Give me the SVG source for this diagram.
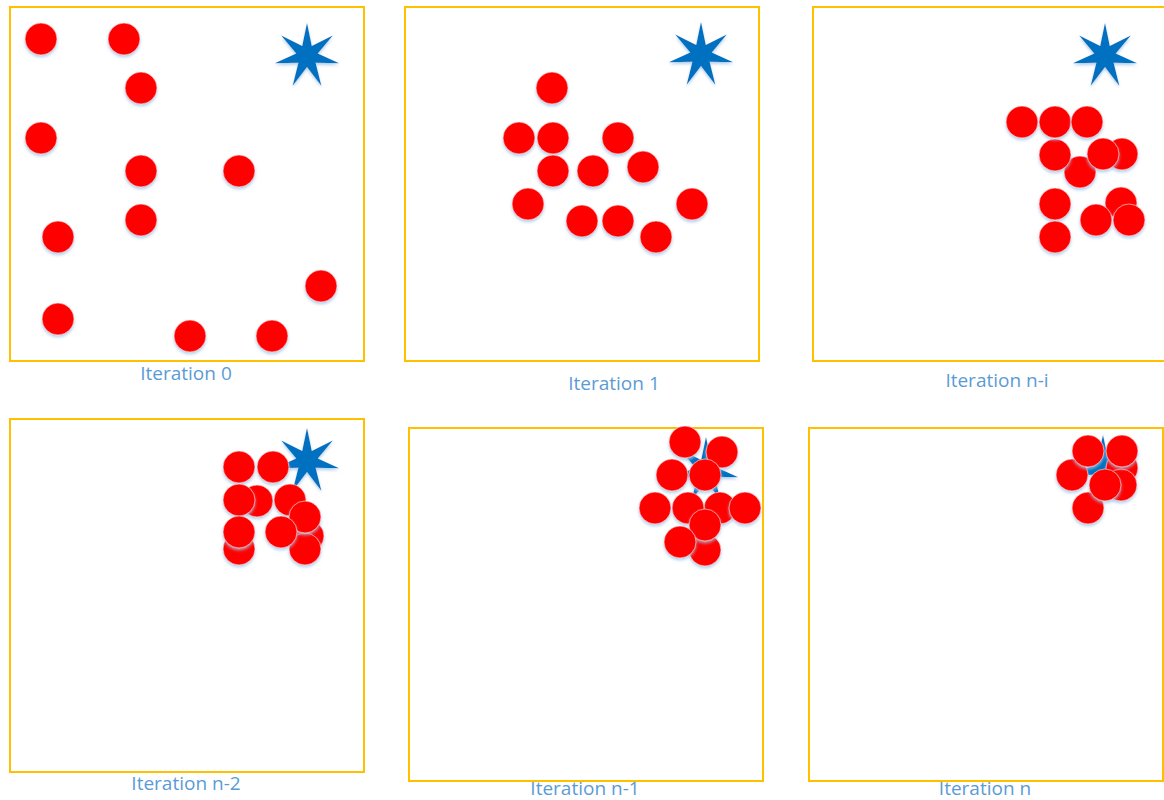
<svg xmlns="http://www.w3.org/2000/svg" xmlns:xlink="http://www.w3.org/1999/xlink" width="1164" height="800" viewBox="0 0 1164 800">
<style>
.frame{fill:#fff;stroke:#FFC000;stroke-width:2}
.ball{fill:#FF0000;stroke:#ffffff;stroke-opacity:0.55;stroke-width:1;filter:url(#sh)}
.star{fill:#0070C0;filter:url(#sh)}
.lbl{font-family:"Open Sans","Liberation Sans",sans-serif;font-size:19px;fill:#5B9BD5;text-anchor:middle}
</style>
<defs>
<filter id="sh" x="-50%" y="-50%" width="200%" height="200%">
<feDropShadow dx="0" dy="2" stdDeviation="1.6" flood-color="#9DC3E6" flood-opacity="0.8"/>
</filter>
<path id="st" d="M0,-33 L4.77,-9.91 L25.8,-20.58 L10.72,-2.45 L32.17,7.34 L8.6,6.86 L14.32,29.73 L0,11 L-14.32,29.73 L-8.6,6.86 L-32.17,7.34 L-10.72,-2.45 L-25.8,-20.58 L-4.77,-9.91 Z"/>
</defs>
<rect width="1164" height="800" fill="#fff"/>

<g id="panel-0">
<rect class="frame" x="10" y="7" width="354" height="354"/>
<use href="#st" class="star" x="307" y="56"/>
<circle class="ball" cx="41" cy="39" r="16"/>
<circle class="ball" cx="124" cy="39" r="16"/>
<circle class="ball" cx="141" cy="88" r="16"/>
<circle class="ball" cx="41" cy="138" r="16"/>
<circle class="ball" cx="141" cy="171" r="16"/>
<circle class="ball" cx="239" cy="171" r="16"/>
<circle class="ball" cx="141" cy="220" r="16"/>
<circle class="ball" cx="58" cy="237" r="16"/>
<circle class="ball" cx="321" cy="286" r="16"/>
<circle class="ball" cx="58" cy="319" r="16"/>
<circle class="ball" cx="190" cy="336" r="16"/>
<circle class="ball" cx="272" cy="336" r="16"/>
<text class="lbl" x="186" y="380">Iteration 0</text>
</g>

<g id="panel-1">
<rect class="frame" x="405" y="7" width="354" height="354"/>
<use href="#st" class="star" x="701" y="55"/>
<circle class="ball" cx="552" cy="88" r="16"/>
<circle class="ball" cx="519" cy="138" r="16"/>
<circle class="ball" cx="553" cy="138" r="16"/>
<circle class="ball" cx="618" cy="138" r="16"/>
<circle class="ball" cx="553" cy="171" r="16"/>
<circle class="ball" cx="593" cy="171" r="16"/>
<circle class="ball" cx="643" cy="167" r="16"/>
<circle class="ball" cx="528" cy="204" r="16"/>
<circle class="ball" cx="582" cy="221" r="16"/>
<circle class="ball" cx="618" cy="221" r="16"/>
<circle class="ball" cx="656" cy="237" r="16"/>
<circle class="ball" cx="692" cy="204" r="16"/>
<text class="lbl" x="614" y="390">Iteration 1</text>
</g>

<g id="panel-ni">
<rect class="frame" x="813" y="7" width="362" height="354"/>
<use href="#st" class="star" x="1105" y="56"/>
<circle class="ball" cx="1080" cy="172" r="16"/>
<circle class="ball" cx="1122" cy="154" r="16"/>
<circle class="ball" cx="1103" cy="154" r="16"/>
<circle class="ball" cx="1055" cy="155" r="16"/>
<circle class="ball" cx="1022" cy="122" r="16"/>
<circle class="ball" cx="1055" cy="122" r="16"/>
<circle class="ball" cx="1087" cy="122" r="16"/>
<circle class="ball" cx="1121" cy="203" r="16"/>
<circle class="ball" cx="1096" cy="220" r="16"/>
<circle class="ball" cx="1129" cy="220" r="16"/>
<circle class="ball" cx="1055" cy="204" r="16"/>
<circle class="ball" cx="1055" cy="237" r="16"/>
<text class="lbl" x="997" y="387">Iteration n-i</text>
</g>

<g id="panel-n2">
<rect class="frame" x="10" y="419" width="354" height="353"/>
<use href="#st" class="star" x="307" y="461"/>
<circle class="ball" cx="257" cy="501" r="16"/>
<circle class="ball" cx="239" cy="549" r="16"/>
<circle class="ball" cx="308" cy="536" r="16"/>
<circle class="ball" cx="305" cy="549" r="16"/>
<circle class="ball" cx="239" cy="467" r="16"/>
<circle class="ball" cx="273" cy="467" r="16"/>
<circle class="ball" cx="239" cy="500" r="16"/>
<circle class="ball" cx="290" cy="500" r="16"/>
<circle class="ball" cx="305" cy="517" r="16"/>
<circle class="ball" cx="239" cy="532" r="16"/>
<circle class="ball" cx="281" cy="532" r="16"/>
<text class="lbl" x="186" y="790">Iteration n-2</text>
</g>

<g id="panel-n1">
<rect class="frame" x="409" y="428" width="354" height="353"/>
<use href="#st" class="star" x="706" y="470"/>
<circle class="ball" cx="705" cy="550" r="16"/>
<circle class="ball" cx="720" cy="508" r="16"/>
<circle class="ball" cx="745" cy="508" r="16"/>
<circle class="ball" cx="688" cy="508" r="16"/>
<circle class="ball" cx="655" cy="508" r="16"/>
<circle class="ball" cx="685" cy="442" r="16"/>
<circle class="ball" cx="722" cy="452" r="16"/>
<circle class="ball" cx="672" cy="475" r="16"/>
<circle class="ball" cx="705" cy="475" r="16"/>
<circle class="ball" cx="705" cy="525" r="16"/>
<circle class="ball" cx="680" cy="542" r="16"/>
<text class="lbl" x="585" y="795">Iteration n-1</text>
</g>

<g id="panel-n">
<rect class="frame" x="809" y="428" width="354" height="353"/>
<use href="#st" class="star" x="1103" y="468"/>
<circle class="ball" cx="1122" cy="468" r="16"/>
<circle class="ball" cx="1121" cy="485" r="16"/>
<circle class="ball" cx="1088" cy="508" r="16"/>
<circle class="ball" cx="1072" cy="475" r="16"/>
<circle class="ball" cx="1088" cy="451" r="16"/>
<circle class="ball" cx="1122" cy="451" r="16"/>
<circle class="ball" cx="1105" cy="485" r="16"/>
<text class="lbl" x="985" y="795">Iteration n</text>
</g>

<g id="connectors"></g>
</svg>
